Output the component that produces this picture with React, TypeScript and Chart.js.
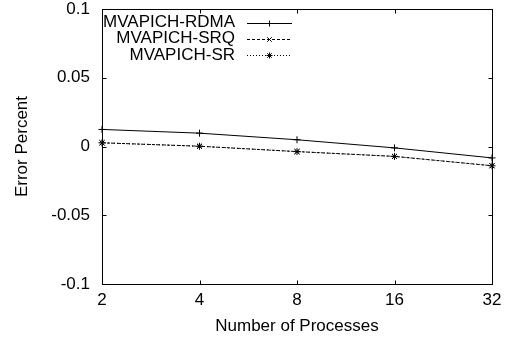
import React, { useEffect, useRef } from 'react';
import { Chart, registerables } from 'chart.js';

Chart.register(...registerables);

const categories = ['2', '4', '8', '16', '32'];
const rdma = [0.0124, 0.0097, 0.0049, -0.001, -0.0083];
const srq = [0.0027, 0.0002, -0.0037, -0.0072, -0.014];
const sr = [0.0027, 0.0002, -0.0037, -0.0072, -0.014];
const yTickValues = [-0.1, -0.05, 0, 0.05, 0.1];
const yTickLabels = ['-0.1', '-0.05', '0', '0.05', '0.1'];
const seriesNames = ['MVAPICH-RDMA', 'MVAPICH-SRQ', 'MVAPICH-SR'];
const seriesDash = [[], [3, 2], [1, 2]];
const seriesMarker = ['cross', 'crossRot', 'star'];

const FONT = "'Liberation Sans', Arial, Helvetica, sans-serif";
const FS = 17;

function drawMarker(ctx: CanvasRenderingContext2D, style: string, x: number, y: number, r: number) {
  ctx.beginPath();
  if (style === 'cross' || style === 'star') {
    ctx.moveTo(x - r, y); ctx.lineTo(x + r, y);
    ctx.moveTo(x, y - r); ctx.lineTo(x, y + r);
  }
  if (style === 'crossRot' || style === 'star') {
    const d = r * 0.75;
    ctx.moveTo(x - d, y - d); ctx.lineTo(x + d, y + d);
    ctx.moveTo(x - d, y + d); ctx.lineTo(x + d, y - d);
  }
  ctx.stroke();
}

const framePlugin = {
  id: 'gnuFrame',
  afterDraw(chart: any) {
    const ctx = chart.ctx as CanvasRenderingContext2D;
    const a = chart.chartArea;
    const xs = chart.scales.x;
    const ys = chart.scales.y;
    ctx.save();
    ctx.strokeStyle = '#000';
    ctx.lineWidth = 1;
    ctx.setLineDash([]);
    const L = Math.round(a.left) + 0.5, R = Math.round(a.right) + 0.5;
    const T = Math.round(a.top) + 0.5, B = Math.round(a.bottom) + 0.5;
    ctx.strokeRect(L, T, R - L, B - T);
    const tl = 4;
    ctx.beginPath();
    for (let i = 0; i < categories.length; i++) {
      const px = Math.round(xs.getPixelForValue(i)) + 0.5;
      ctx.moveTo(px, B); ctx.lineTo(px, B - tl);
      ctx.moveTo(px, T); ctx.lineTo(px, T + tl);
    }
    for (const v of yTickValues) {
      const py = Math.round(ys.getPixelForValue(v)) + 0.5;
      ctx.moveTo(L, py); ctx.lineTo(L + tl, py);
      ctx.moveTo(R, py); ctx.lineTo(R - tl, py);
    }
    ctx.stroke();

    // legend
    ctx.font = `${FS}px ${FONT}`;
    ctx.fillStyle = '#000';
    ctx.textAlign = 'right';
    ctx.textBaseline = 'middle';
    const textRight = a.left + 133;
    const lineStart = a.left + 145;
    const lineEnd = a.left + 190;
    for (let i = 0; i < seriesNames.length; i++) {
      const y = a.top + 13.5 + i * 16.3;
      ctx.fillText(seriesNames[i], textRight, y);
      ctx.setLineDash(seriesDash[i]);
      ctx.beginPath();
      ctx.moveTo(lineStart, Math.round(y) + 0.5);
      ctx.lineTo(lineEnd, Math.round(y) + 0.5);
      ctx.stroke();
      ctx.setLineDash([]);
      drawMarker(ctx, seriesMarker[i], (lineStart + lineEnd) / 2, Math.round(y) + 0.5, 3);
    }
    ctx.restore();
  },
};

export default function App() {
  const ref = useRef<HTMLCanvasElement | null>(null);
  useEffect(() => {
    if (!ref.current) return;
    const values = [rdma, srq, sr];
    const chart = new Chart(ref.current, {
      type: 'line',
      data: {
        labels: categories,
        datasets: seriesNames.map((name, i) => ({
          label: name,
          data: values[i],
          borderColor: '#000',
          backgroundColor: '#000',
          borderWidth: 1,
          borderDash: seriesDash[i],
          pointStyle: seriesMarker[i] as any,
          pointRadius: 3.5,
          pointBorderWidth: 1,
          pointBorderColor: '#000',
          tension: 0,
          fill: false,
        })),
      },
      options: {
        responsive: false,
        animation: false,
        devicePixelRatio: 1,
        layout: { padding: { top: 9, right: 22, left: 0, bottom: 0 } },
        plugins: {
          legend: { display: false },
          tooltip: { enabled: false },
        },
        scales: {
          x: {
            type: 'category',
            offset: false,
            grid: { display: false, drawTicks: false },
            border: { display: false },
            ticks: {
              color: '#000',
              font: { family: FONT, size: FS },
              padding: 6,
              maxRotation: 0,
              autoSkip: false,
            },
            title: {
              display: true,
              text: 'Number of Processes',
              color: '#000',
              font: { family: FONT, size: FS },
              padding: { top: 0, bottom: 3 },
            },
            afterFit(s: any) {
              s.height = 56;
              s.paddingLeft = 0;
              s.paddingRight = 0;
            },
          },
          y: {
            type: 'linear',
            min: -0.1,
            max: 0.1,
            grid: { display: false, drawTicks: false },
            border: { display: false },
            afterBuildTicks(s: any) { s.ticks = yTickValues.map((v) => ({ value: v })); },
            ticks: {
              color: '#000',
              font: { family: FONT, size: FS },
              padding: 12,
              callback: (v: any) => {
                const idx = yTickValues.findIndex((t) => Math.abs(t - Number(v)) < 1e-9);
                return idx >= 0 ? yTickLabels[idx] : '';
              },
            },
            title: {
              display: true,
              text: 'Error Percent',
              color: '#000',
              font: { family: FONT, size: FS },
              padding: { top: 12, bottom: 0 },
            },
            afterFit(s: any) {
              s.width = 102;
              s.paddingTop = 0;
              s.paddingBottom = 0;
            },
          },
        },
      },
      plugins: [framePlugin],
    });
    return () => chart.destroy();
  }, []);
  return (
    <div style={{ position: 'absolute', left: 0, top: 0, width: 514, height: 340 }}>
      <canvas ref={ref} width={514} height={340} />
    </div>
  );
}
